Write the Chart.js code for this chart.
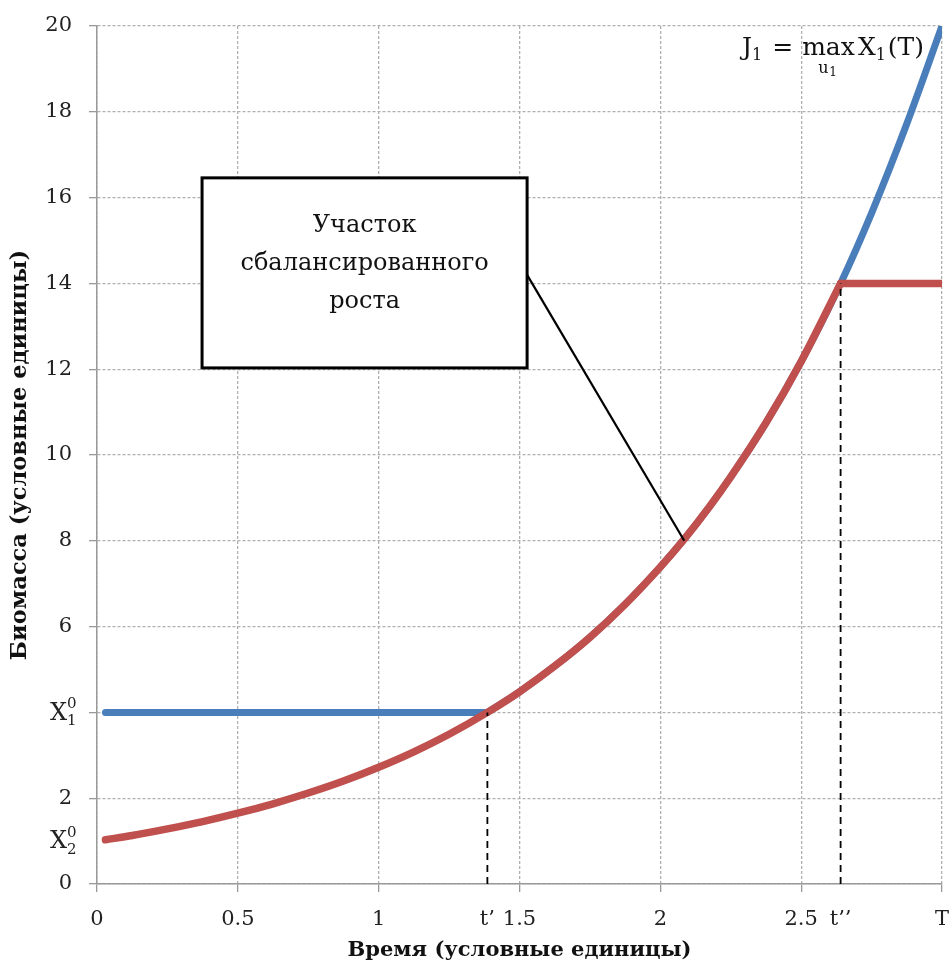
<!DOCTYPE html>
<html><head><meta charset="utf-8">
<script src="https://cdn.jsdelivr.net/npm/chart.js@4.4.0/dist/chart.umd.min.js"></script>
<style>html,body{margin:0;padding:0;background:#fff}</style>
</head><body>
<canvas id="c" width="952" height="969"></canvas>
<script>
// ---- data ----
const xTickValues = [0, 0.5, 1, 1.386, 1.5, 2, 2.5, 2.64, 3];
const xTickLabels = ['0', '0.5', '1', 't’', '1.5', '2', '2.5', 't’’', 'T'];
const xNoGrid = [1.386, 2.64];
const yTickValues = [0, 1, 2, 4, 6, 8, 10, 12, 14, 16, 18, 20];
const yTickLabels = ['0', 'X|2|0', '2', 'X|1|0', '6', '8', '10', '12', '14', '16', '18', '20'];
const yNoGrid = [1];

const redCurveX = [0.03, 0.125, 0.25, 0.375, 0.5, 0.625, 0.75, 0.875, 1.0, 1.125, 1.25, 1.386, 1.5, 1.625, 1.75, 1.875, 2.0, 2.085, 2.175, 2.25, 2.375, 2.5, 2.64];
const redCurveY = [1.03, 1.13, 1.285, 1.455, 1.65, 1.87, 2.12, 2.40, 2.72, 3.08, 3.49, 4.0, 4.48, 5.08, 5.75, 6.52, 7.39, 8.04, 8.80, 9.49, 10.75, 12.18, 14.0];
const redFlatX = [2.64, 3.0];
const redFlatY = [14, 14];
const blueFlatX = [0.03, 1.386];
const blueFlatY = [4, 4];
const blueCurveX = [1.386, 1.5, 1.625, 1.75, 1.875, 2.0, 2.085, 2.175, 2.25, 2.375, 2.5, 2.64, 2.75, 2.875, 3.0];
const blueCurveY = [4.0, 4.48, 5.08, 5.75, 6.52, 7.39, 8.04, 8.80, 9.49, 10.75, 12.18, 14.0, 15.64, 17.72, 20.0];
const tPrimeX = [1.386, 1.386];
const tPrimeY = [0, 4];
const tDoubleX = [2.64, 2.64];
const tDoubleY = [0, 14];

const boxText = ['Участок', 'сбалансированного', 'роста'];
const boxX = [0.373, 1.527];
const boxY = [16.46, 12.03];
const connectorX = [1.527, 2.085];
const connectorY = [14.2, 8.0];
const jAnchorX = [2.29];
const jAnchorY = [19.32];

const pts = (xs, ys) => xs.map((v, i) => ({x: v, y: ys[i]}));

const RED = '#C0504D', BLUE = '#4A7EBB';
const TICKFONT = {family: '"DejaVu Serif"', size: 21};

const overlay = {
  id: 'overlay',
  afterDatasetsDraw(chart) {
    const {ctx, scales: {x, y}} = chart;
    ctx.save();
    // connector
    ctx.strokeStyle = '#000'; ctx.lineWidth = 2.2;
    ctx.beginPath();
    ctx.moveTo(x.getPixelForValue(connectorX[0]), y.getPixelForValue(connectorY[0]));
    ctx.lineTo(x.getPixelForValue(connectorX[1]), y.getPixelForValue(connectorY[1]));
    ctx.stroke();
    // box
    const bx0 = x.getPixelForValue(boxX[0]), bx1 = x.getPixelForValue(boxX[1]);
    const by0 = y.getPixelForValue(boxY[0]), by1 = y.getPixelForValue(boxY[1]);
    ctx.fillStyle = '#fff';
    ctx.fillRect(bx0, by0, bx1 - bx0, by1 - by0);
    ctx.lineWidth = 3; ctx.strokeStyle = '#000';
    ctx.strokeRect(bx0, by0, bx1 - bx0, by1 - by0);
    ctx.fillStyle = '#111';
    ctx.font = '24px "DejaVu Serif"';
    ctx.textAlign = 'center'; ctx.textBaseline = 'middle';
    boxText.forEach((t, i) => ctx.fillText(t, (bx0 + bx1) / 2, by0 + 48 + i * 38));

    // J annotation
    let px = x.getPixelForValue(jAnchorX[0]);
    const py = y.getPixelForValue(jAnchorY[0]);
    ctx.textAlign = 'left'; ctx.textBaseline = 'alphabetic';
    const big = '25px "DejaVu Serif"', small = '16px "DejaVu Serif"';
    const put = (t, f, dy) => { ctx.font = f; ctx.fillText(t, px, py + dy); px += ctx.measureText(t).width; };
    put('J', big, 0); put('1', small, 5); px += 10;
    put('=', big, 0); px += 9;
    const mx = px;
    put('max', big, 0);
    ctx.font = small;
    ctx.fillText('u', mx + 16, py + 18);
    ctx.font = '12px "DejaVu Serif"';
    ctx.fillText('1', mx + 27, py + 21);
    px += 3;
    put('X', big, 0); put('1', small, 5); px += 2;
    put('(T)', big, 0);
    ctx.restore();
  },
  afterDraw(chart) {
    const {ctx, scales: {y}} = chart;
    ctx.save();
    ctx.fillStyle = '#222';
    yTickValues.forEach((v, i) => {
      const lab = yTickLabels[i];
      if (lab.indexOf('|') < 0) return;
      const [base, sub, sup] = lab.split('|');
      const py = y.getPixelForValue(v);
      ctx.textBaseline = 'middle'; ctx.textAlign = 'left';
      ctx.font = '24px "DejaVu Serif"';
      ctx.fillText(base, 50, py + 1);
      const w = ctx.measureText(base).width;
      ctx.font = '15px "DejaVu Serif"';
      ctx.fillText(sup, 50 + w, py - 8);
      ctx.fillText(sub, 50 + w, py + 9);
    });
    ctx.restore();
  }
};

const lineDs = (data, color, width, extra) => Object.assign({
  data, showLine: true, borderColor: color, backgroundColor: color,
  borderWidth: width, pointRadius: 0, fill: false, borderCapStyle: 'round', borderJoinStyle: 'round'
}, extra || {});

new Chart(document.getElementById('c'), {
  type: 'scatter',
  data: {
    datasets: [
      lineDs(pts(tPrimeX, tPrimeY), '#000', 1.8, {borderDash: [7, 5], borderCapStyle: 'butt', order: 0}),
      lineDs(pts(tDoubleX, tDoubleY), '#000', 1.8, {borderDash: [7, 5], borderCapStyle: 'butt', order: 0}),
      lineDs(pts(redCurveX, redCurveY), RED, 7.5, {cubicInterpolationMode: 'monotone', order: 1}),
      lineDs(pts(redFlatX, redFlatY), RED, 7.5, {order: 1}),
      lineDs(pts(blueFlatX, blueFlatY), BLUE, 7, {order: 2}),
      lineDs(pts(blueCurveX, blueCurveY), BLUE, 7, {cubicInterpolationMode: 'monotone', order: 2})
    ]
  },
  options: {
    responsive: false,
    animation: false,
    events: [],
    layout: {padding: {left: 0, right: 10, top: 26, bottom: 0}},
    plugins: {legend: {display: false}, tooltip: {enabled: false}},
    scales: {
      x: {
        type: 'linear', min: 0, max: 3,
        afterBuildTicks: s => { s.ticks = xTickValues.map(v => ({value: v})); },
        afterFit: s => { s.height = 85; s.paddingLeft = 0; s.paddingRight = 0; },
        ticks: {
          autoSkip: false, maxRotation: 0, minRotation: 0, padding: 15,
          color: '#222', font: TICKFONT,
          callback: (v, i) => xTickLabels[i]
        },
        grid: {
          color: c => xNoGrid.includes(c.tick && c.tick.value) ? 'rgba(0,0,0,0)' : '#b0b0b0',
          tickColor: c => xNoGrid.includes(c.tick && c.tick.value) ? 'rgba(0,0,0,0)' : '#999',
          lineWidth: 1.3, tickLength: 8, tickBorderDash: [], tickWidth: 1.3
        },
        border: {display: true, color: '#999', width: 1.5, dash: [3, 2]},
        title: {display: true, text: 'Время (условные единицы)', font: {family: '"DejaVu Serif"', size: 21, weight: 'bold'}, color: '#111', padding: {top: 0, bottom: 6}}
      },
      y: {
        type: 'linear', min: 0, max: 20,
        afterBuildTicks: s => { s.ticks = yTickValues.map(v => ({value: v})); },
        afterFit: s => { s.width = 97; s.paddingTop = 0; s.paddingBottom = 0; },
        ticks: {
          autoSkip: false, padding: 17, color: '#222', font: TICKFONT,
          callback: (v, i) => yTickLabels[i].indexOf('|') >= 0 ? '' : yTickLabels[i]
        },
        grid: {
          color: c => yNoGrid.includes(c.tick && c.tick.value) ? 'rgba(0,0,0,0)' : '#b0b0b0',
          tickColor: c => yNoGrid.includes(c.tick && c.tick.value) ? 'rgba(0,0,0,0)' : '#999',
          lineWidth: 1.3, tickLength: 8, tickBorderDash: [], tickWidth: 1.3
        },
        border: {display: true, color: '#999', width: 1.5, dash: [3, 2]},
        title: {display: true, text: 'Биомасса (условные единицы)', font: {family: '"DejaVu Serif"', size: 22.5, weight: 'bold'}, color: '#111', padding: {top: 7, bottom: 0}}
      }
    }
  },
  plugins: [overlay]
});
</script>
</body></html>
